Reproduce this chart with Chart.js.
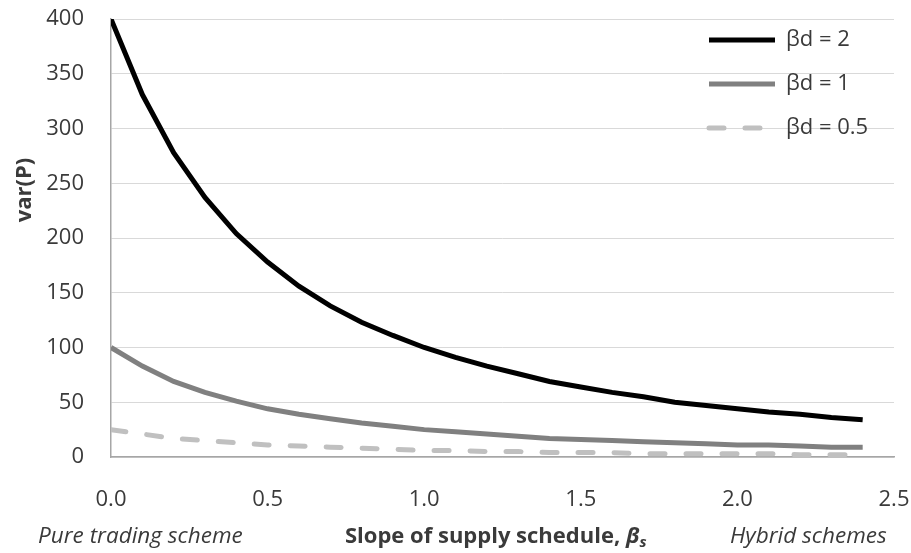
<!DOCTYPE html>
<html lang="en">
  <head>
    <meta charset="UTF-8" />
    <meta name="viewport" content="width=device-width, initial-scale=1.0" />
    <script src="https://cdn.jsdelivr.net/npm/chart.js@4.4.0/dist/chart.umd.min.js"></script>
    <title>var(P) and slope of supply schedule</title>
    <style>
      html,
      body {
        margin: 0;
        padding: 0;
        background: #fff;
      }
      .canvas-container {
        position: relative;
        width: 911px;
        height: 553px;
      }
    </style>
  </head>
  <body>
    <div class="canvas-container">
      <canvas id="myChart"></canvas>
    </div>

    <script>
      // slope of supply schedule (x) and var(P) for each demand slope
      const slopes = [0, 0.1, 0.2, 0.3, 0.4, 0.5, 0.6, 0.7, 0.8, 0.9, 1.0, 1.1, 1.2,
        1.3, 1.4, 1.5, 1.6, 1.7, 1.8, 1.9, 2.0, 2.1, 2.2, 2.3, 2.4];
      const varBd2 = [400, 331, 278, 237, 204, 178, 156, 138, 123, 111, 100, 91, 83,
        76, 69, 64, 59, 55, 50, 47, 44, 41, 39, 36, 34];
      const varBd1 = [100, 83, 69, 59, 51, 44, 39, 35, 31, 28, 25, 23, 21,
        19, 17, 16, 15, 14, 13, 12, 11, 11, 10, 9, 9];
      const varBd05 = [25, 21, 17, 15, 13, 11, 10, 9, 8, 7, 6, 6, 5,
        5, 4, 4, 4, 3, 3, 3, 3, 3, 2, 2, 2];
      const seriesLabels = ["βd = 2", "βd = 1", "βd = 0.5"];
      const yTicks = [0, 50, 100, 150, 200, 250, 300, 350, 400];
      const xTicks = [0, 0.5, 1.0, 1.5, 2.0, 2.5];

      const textColor = "#3a3a3a";
      const fontName = "'Open Sans', sans-serif";

      const toPoints = (ys) => slopes.map((x, i) => ({ x: x, y: ys[i] }));

      // put the legend in the top right corner of the plot
      const legendPlacer = {
        id: "legendPlacer",
        afterLayout(chart) {
          const lg = chart.legend;
          const w = lg.width;
          const h = lg.height;
          lg.left = chart.chartArea.left + 576;
          lg.right = lg.left + w;
          lg.top = 7;
          lg.bottom = lg.top + h;
        },
      };

      // axis titles and the two italic notes under the x axis
      const axisTexts = {
        id: "axisTexts",
        afterDraw(chart) {
          const ctx = chart.ctx;
          const y = 537;
          ctx.save();
          ctx.fillStyle = textColor;
          ctx.textBaseline = "middle";
          ctx.textAlign = "left";
          ctx.font = "italic 22.5px " + fontName;
          ctx.fillText("Pure trading scheme", 38, y);
          ctx.fillText("Hybrid schemes", 730, y);

          let x = 345;
          const main = "Slope of supply schedule, ";
          ctx.font = "bold 22px " + fontName;
          ctx.fillText(main, x, y);
          x += ctx.measureText(main).width;
          ctx.font = "italic bold 22px " + fontName;
          ctx.fillText("β", x, y);
          x += ctx.measureText("β").width;
          ctx.font = "italic bold 15px " + fontName;
          ctx.fillText("s", x, y + 6);

          ctx.translate(25, 190);
          ctx.rotate(-Math.PI / 2);
          ctx.textAlign = "center";
          ctx.font = "bold 22px " + fontName;
          ctx.fillText("var(P)", 0, 0);
          ctx.restore();
        },
      };

      const ctx = document.getElementById("myChart").getContext("2d");
      const myChart = new Chart(ctx, {
        type: "line",
        data: {
          datasets: [
            {
              label: seriesLabels[0],
              data: toPoints(varBd2),
              borderColor: "#000000",
              backgroundColor: "#000000",
              borderWidth: 5,
              pointRadius: 0,
              tension: 0,
            },
            {
              label: seriesLabels[1],
              data: toPoints(varBd1),
              borderColor: "#808080",
              backgroundColor: "#808080",
              borderWidth: 5,
              pointRadius: 0,
              tension: 0,
            },
            {
              label: seriesLabels[2],
              data: toPoints(varBd05),
              borderColor: "#c0c0c0",
              backgroundColor: "#c0c0c0",
              borderWidth: 5,
              borderDash: [15, 21],
              borderCapStyle: "round",
              pointRadius: 0,
              tension: 0,
            },
          ],
        },
        options: {
          responsive: true,
          maintainAspectRatio: false,
          animation: false,
          layout: { padding: { top: 19, right: 17, left: 0, bottom: 0 } },
          plugins: {
            tooltip: { enabled: false },
            legend: {
              position: "chartArea",
              align: "start",
              labels: {
                usePointStyle: true,
                pointStyle: "line",
                pointStyleWidth: 66,
                padding: 22,
                color: textColor,
                font: { family: fontName, size: 22 },
                // the point style drops the line dash, take it from the dataset
                generateLabels(chart) {
                  const items = Chart.defaults.plugins.legend.labels.generateLabels(chart);
                  items.forEach((item) => {
                    const ds = chart.data.datasets[item.datasetIndex];
                    item.lineDash = ds.borderDash || [];
                    item.lineCap = ds.borderCapStyle || "butt";
                    item.lineWidth = ds.borderWidth;
                  });
                  return items;
                },
              },
            },
          },
          scales: {
            x: {
              type: "linear",
              min: xTicks[0],
              max: xTicks[xTicks.length - 1],
              grid: { display: false, drawTicks: false },
              border: { display: true, color: "#a6a6a6", width: 1.5 },
              ticks: {
                stepSize: 0.5,
                padding: 30,
                color: textColor,
                font: { family: fontName, size: 22 },
                callback: (v) => Number(v).toFixed(1),
              },
              afterFit(scale) {
                scale.height = 96;
                scale.paddingLeft = 0;
                scale.paddingRight = 0;
              },
            },
            y: {
              min: yTicks[0],
              max: yTicks[yTicks.length - 1],
              grid: { color: "#d9d9d9", lineWidth: 1, drawTicks: false },
              border: { display: true, color: "#a6a6a6", width: 1.5 },
              ticks: {
                stepSize: 50,
                padding: 27,
                color: textColor,
                font: { family: fontName, size: 22 },
              },
              afterFit(scale) {
                scale.width = 111;
                scale.paddingTop = 0;
                scale.paddingBottom = 0;
              },
            },
          },
        },
        plugins: [legendPlacer, axisTexts],
      });
    </script>
  </body>
</html>
